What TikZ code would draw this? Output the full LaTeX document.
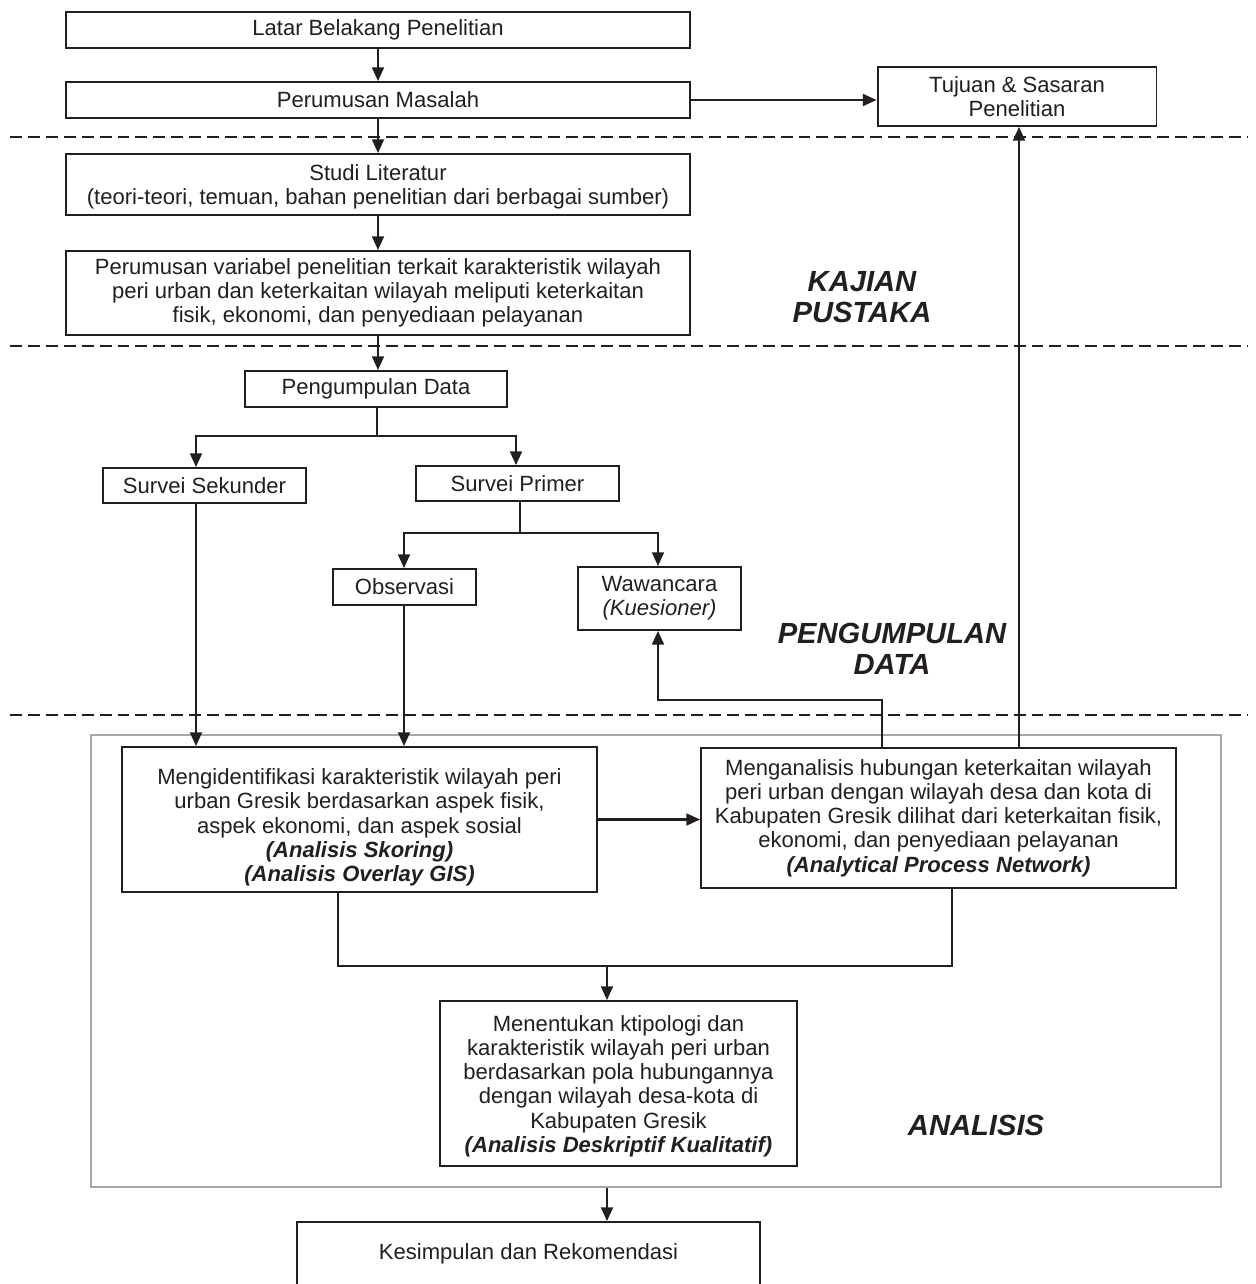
\documentclass[tikz,border=0pt]{standalone}
\usepackage{fontspec}
\setmainfont{Liberation Sans}
\usetikzlibrary{arrows.meta}
\definecolor{ink}{HTML}{231F20}
\begin{document}
\begin{tikzpicture}[x=0.02cm,y=-0.02cm,
  every node/.style={font=\fontsize{12.55}{13.8}\selectfont, text=ink},
  box/.style={draw=ink, line width=1.1pt, fill=white, align=center, inner sep=0pt},
  arr/.style={draw=ink, line width=1.15pt, -{Triangle[length=7.8pt,width=6.8pt]}},
  ln/.style={draw=ink, line width=1.15pt},
  sep/.style={draw=ink, line width=1.4pt, dash pattern=on 6.8pt off 3.4pt},
  phase/.style={font=\fontsize{16.6}{17.6}\selectfont\bfseries\itshape, align=center},
  frm/.style={draw=gray!70, line width=0.8pt, inner sep=0pt},
]
\useasboundingbox (0,0) rectangle (1256,1284);

% analysis frame
\node[frm, minimum width=22.6cm, minimum height=9.04cm] (frame) at (656,961) {};

% phase separators
\draw[sep] (10,137) -- (1248,137);
\draw[sep] (10,346) -- (1248,346);
\draw[sep] (10,715) -- (1248,715);

% phase titles
\node[phase] (kp) at (862,297) {KAJIAN\\PUSTAKA};
\node[phase] (pgd) at (892,648.5) {PENGUMPULAN\\DATA};
\node[phase] (ana) at (976,1125) {ANALISIS};

% boxes
\node[box, minimum width=12.48cm, minimum height=0.72cm] (lat) at (378,30) {Latar Belakang Penelitian};
\node[box, minimum width=12.48cm, minimum height=0.72cm] (rum) at (378,100) {Perumusan Masalah};
\node[box, minimum width=5.58cm, minimum height=1.18cm] (tuj) at (1017,96.5) {Tujuan \& Sasaran\\Penelitian};
\node[box, minimum width=12.48cm, minimum height=1.22cm] (stu) at (378,184.5) {\rule{0pt}{12pt}Studi Literatur\\(teori-teori, temuan, bahan penelitian dari berbagai sumber)};
\node[box, minimum width=12.48cm, minimum height=1.68cm] (var) at (378,293) {Perumusan variabel penelitian terkait karakteristik wilayah\\peri urban dan keterkaitan wilayah meliputi keterkaitan\\fisik, ekonomi, dan penyediaan pelayanan};
\node[box, minimum width=5.24cm, minimum height=0.72cm] (pd) at (376,389) {Pengumpulan Data};
\node[box, minimum width=4.06cm, minimum height=0.7cm] (ss) at (204.5,485.5) {Survei Sekunder};
\node[box, minimum width=4.06cm, minimum height=0.7cm] (sp) at (517.5,483.5) {Survei Primer};
\node[box, minimum width=2.86cm, minimum height=0.72cm] (obs) at (404.5,587) {Observasi};
\node[box, minimum width=3.26cm, minimum height=1.26cm] (waw) at (659.5,598.5) {Wawancara\\\textit{(Kuesioner)}};
\node[box, minimum width=9.5cm, minimum height=2.9cm] (ident) at (359.5,819.5) {\rule{0pt}{18pt}Mengidentifikasi karakteristik wilayah peri\\urban Gresik berdasarkan aspek fisik,\\aspek ekonomi, dan aspek sosial\\\textbf{\textit{(Analisis Skoring)}}\\\textbf{\textit{(Analisis Overlay GIS)}}};
\node[box, minimum width=9.5cm, minimum height=2.8cm] (anal) at (938.5,818) {Menganalisis hubungan keterkaitan wilayah\\peri urban dengan wilayah desa dan kota di\\Kabupaten Gresik dilihat dari keterkaitan fisik,\\ekonomi, dan penyediaan pelayanan\\\textbf{\textit{(Analytical Process Network)}}};
\node[box, minimum width=7.14cm, minimum height=3.3cm] (ment) at (618.5,1083.5) {\rule{0pt}{12pt}Menentukan ktipologi dan\\karakteristik wilayah peri urban\\berdasarkan pola hubungannya\\dengan wilayah desa-kota di\\Kabupaten Gresik\\\textbf{\textit{(Analisis Deskriptif Kualitatif)}}};
\node[box, minimum width=9.26cm, minimum height=1.28cm] (kes) at (528.5,1254) {Kesimpulan dan Rekomendasi};

% routing points
\coordinate (xa) at (196,0);
\coordinate (xb) at (516,0);
\coordinate (pdsplit) at (377,436);
\coordinate (spsplit) at (520,533);
\coordinate (xd) at (404,0);
\coordinate (xe) at (658,0);
\coordinate (wawturn) at (882,700);
\coordinate (xg) at (1019,0);
\coordinate (identdown) at (338,966);
\coordinate (analdown) at (952,966);
\coordinate (merge) at (607,966);

% connectors
\draw[arr] (lat) -- (rum);
\draw[arr] (rum.east) -- (rum.east -| tuj.west);
\draw[arr] (rum) -- (stu);
\draw[arr] (stu) -- (var);
\draw[arr] (var.south) -- (var.south |- pd.north);
\draw[ln] (pd.south -| pdsplit) -- (pdsplit);
\draw[arr] (pdsplit) -| (xa |- ss.north);
\draw[arr] (pdsplit) -| (xb |- sp.north);
\draw[ln] (sp.south -| spsplit) -- (spsplit);
\draw[arr] (spsplit) -| (xd |- obs.north);
\draw[arr] (spsplit) -| (xe |- waw.north);
\draw[arr] (ss.south -| xa) -- (xa |- ident.north);
\draw[arr] (obs.south -| xd) -- (xd |- ident.north);
\draw[arr] (ident.east) -- (ident.east -| anal.west);
\draw[arr] (anal.north -| wawturn) -- (wawturn) -| (xe |- waw.south);
\draw[arr] (anal.north -| xg) -- (xg |- tuj.south);
\draw[ln] (ident.south -| identdown) -- (identdown) -- (analdown) -- (anal.south -| analdown);
\draw[arr] (merge) -- (merge |- ment.north);
\draw[arr] (frame.south -| merge) -- (merge |- kes.north);
\end{tikzpicture}
\end{document}
